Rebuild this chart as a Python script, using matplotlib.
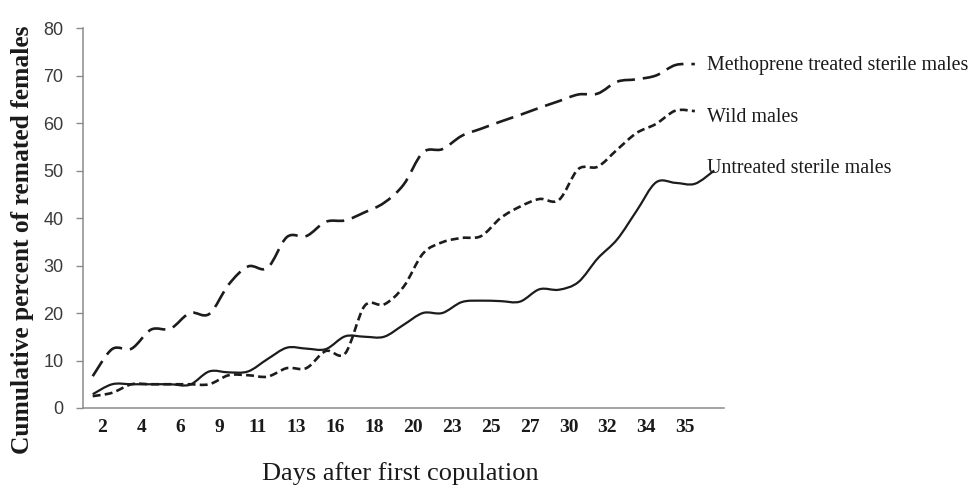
import numpy as np
import matplotlib
matplotlib.use("Agg")
import matplotlib.pyplot as plt
from matplotlib.path import Path
from matplotlib.patches import PathPatch

# ---------------- data ----------------
day_labels = ["2", "4", "6", "9", "11", "13", "16", "18", "20", "23", "25", "27",
              "30", "32", "34", "35"]
n_obs = 33  # number of observation points along the category axis

methoprene = [6.7, 12.4, 12.5, 16.5, 16.7, 20.0, 19.8, 26.0, 29.8, 29.5, 36.0,
              36.2, 39.2, 39.5, 41.2, 43.2, 47.0, 53.8, 54.5, 57.3, 58.8, 60.3,
              61.7, 63.2, 64.6, 66.0, 66.2, 68.7, 69.2, 70.0, 72.2, 72.4, None]
wild = [2.5, 3.2, 5.0, 5.0, 5.0, 5.0, 5.0, 6.9, 6.9, 6.6, 8.4, 8.4, 12.0, 11.5,
        21.5, 21.8, 25.5, 32.5, 34.9, 35.8, 36.2, 40.0, 42.4, 44.0, 43.8, 50.3,
        50.8, 54.4, 57.9, 59.8, 62.6, 62.5, None]
untreated = [2.9, 5.0, 5.0, 5.0, 5.0, 4.9, 7.7, 7.5, 7.7, 10.3, 12.7, 12.5, 12.4,
             15.1, 15.0, 15.0, 17.5, 20.0, 20.0, 22.3, 22.6, 22.5, 22.4, 25.0,
             24.9, 26.5, 31.5, 35.5, 41.5, 47.5, 47.4, 47.2, 50.0]

series_names = ["Methoprene treated sterile males", "Wild males",
                "Untreated sterile males"]

# ---------------- helpers ----------------
def smooth_path(values):
    """Excel-like smoothed line: Catmull-Rom spline expressed as cubic Beziers."""
    pts = [(i, v) for i, v in enumerate(values) if v is not None]
    P = np.array(pts, dtype=float)
    n = len(P)
    verts = [tuple(P[0])]
    codes = [Path.MOVETO]
    for i in range(n - 1):
        p0 = P[i - 1] if i > 0 else P[i]
        p1 = P[i]
        p2 = P[i + 1]
        p3 = P[i + 2] if i + 2 < n else P[i + 1]
        c1 = p1 + (p2 - p0) / 6.0
        c2 = p2 - (p3 - p1) / 6.0
        verts += [tuple(c1), tuple(c2), tuple(p2)]
        codes += [Path.CURVE4] * 3
    return Path(verts, codes)

# ---------------- figure ----------------
W, H = 975, 488
fig = plt.figure(figsize=(W / 100, H / 100), dpi=100)
ax = fig.add_axes([83 / W, 1 - 408 / H, (724 - 83) / W, (408 - 28) / H])

line_color = "#1c1c1c"
styles = [
    dict(linestyle=(0, (6.8, 3.0)), linewidth=1.9),
    dict(linestyle=(0, (3.0, 1.6)), linewidth=1.9),
    dict(linestyle="-", linewidth=1.6),
]
for vals, st in zip([methoprene, wild, untreated], styles):
    patch = PathPatch(smooth_path(vals), fill=False, edgecolor=line_color,
                      capstyle="butt", joinstyle="round", **st)
    ax.add_patch(patch)

ax.set_xlim(-0.5, n_obs - 0.5)
ax.set_ylim(0, 80)
ax.set_yticks(np.arange(0, 81, 10))

tick_pos = [0.5 + 2 * k for k in range(len(day_labels))]
ax.set_xticks(tick_pos)
ax.set_xticklabels(day_labels, fontfamily="Liberation Serif", fontsize=14,
                   fontweight="bold", color="#1a1a1a")
ax.tick_params(axis="x", length=0, pad=8)
ax.tick_params(axis="y", direction="out", length=5, width=1, color="#8c8c8c",
               pad=9, labelsize=13, labelcolor="#3a3a3a")
for lab in ax.get_yticklabels():
    lab.set_fontfamily("Liberation Sans")

for s in ["top", "right"]:
    ax.spines[s].set_visible(False)
for s in ["left", "bottom"]:
    ax.spines[s].set_color("#8c8c8c")
    ax.spines[s].set_linewidth(1.1)

# axis titles
fig.text(23 / W, 1 - 240 / H, "Cumulative percent of remated females",
         rotation=90, ha="center", va="center", fontfamily="Liberation Serif",
         fontweight="bold", fontsize=18.4, color="#1a1a1a")
fig.text(400 / W, 1 - 480 / H, "Days after first copulation", ha="center",
         va="baseline", fontfamily="Liberation Serif", fontsize=19,
         color="#1a1a1a")

# series labels
for name, yb in zip(series_names, [70, 122, 173]):
    fig.text(707 / W, 1 - yb / H, name, ha="left", va="baseline",
             fontfamily="Liberation Serif", fontsize=14.4, color="#1a1a1a")

fig.savefig("out.png", dpi=100)
